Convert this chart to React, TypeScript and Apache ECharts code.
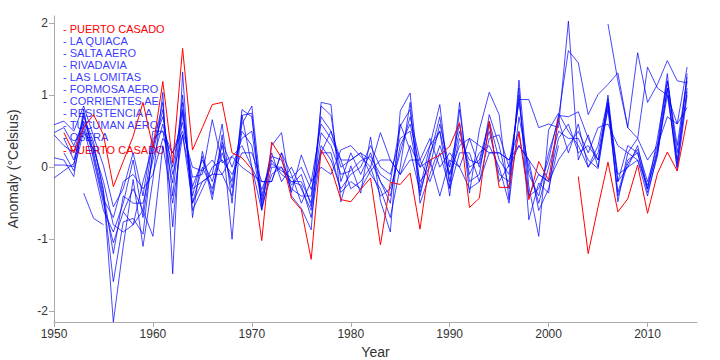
import React, { useEffect, useRef } from "react";
import * as echarts from "echarts";

const YEARS: number[] = Array.from({ length: 65 }, (_, i) => 1950 + i);
const X_TICKS = [1950, 1960, 1970, 1980, 1990, 2000, 2010];
const Y_TICKS = [-2, -1, 0, 1, 2];

const LEGEND_NAMES = [
  "PUERTO CASADO", "LA QUIACA", "SALTA AERO", "RIVADAVIA", "LAS LOMITAS",
  "FORMOSA AERO", "CORRIENTES AE", "RESISTENCIA A", "TUCUMAN AERO", "OBERA", "PUERTO CASADO",
];
const LEGEND_RED = [true, false, false, false, false, false, false, false, false, false, true];

const n = null;
// 1950 .. 2014
const puertoCasadoA = [
  n, 0.48, 0.2, 0.55, 0.73, 0.45, -0.27, 0.08, 0.43, 0.9,
  0.27, 1.19, 0.06, 1.65, 0.24, 0.55, 0.87, 0.9, 0.2, 0.13,
  -0.03, -1.02, 0.35, 0.13, -0.43, -0.59, -1.28, 0.24, -0.01, -0.45,
  -0.48, -0.31, -0.15, -1.08, -0.21, -0.24, -0.08, -0.86, 0.1, 0.17,
  0.29, 0.62, -0.56, -0.43, 0.64, -0.28, -0.28, 0.48, -0.45, 0.08,
  -0.18, 0.68, n, n, n, n, n, n, n, n,
  n, n, n, n, n,
];
const laQuiaca = [
  0.59, 0.64, 0.5, 0.85, 0.43, 0.02, -0.55, -0.3, 0.2, -0.4,
  0.5, 0.5, 0.2, 0.5, 0.0, -0.05, 0.1, -0.1, 0.15, 0.0,
  -0.1, -0.2, -0.2, 0.2, -0.35, 0.17, -0.2, 0.0, -0.1, 0.24,
  0.3, 0.15, 0.0, 0.48, 0.1, -0.1, 0.1, 0.1, 0.4, 0.0,
  0.2, 0.0, 0.4, 0.3, 0.2, 0.2, 0.1, 0.3, 0.1, -0.1,
  -0.2, 0.1, 0.3, 0.5, 0.2, 0.55, 0.6, 0.3, 0.2, 0.4,
  0.1, 0.3, 0.7, 0.6, 0.83,
];
const saltaAero = [
  0.48, 0.55, 0.3, 0.64, 0.3, -0.31, -2.15, -1.1, -0.17, -1.1,
  -0.17, 1.04, -1.48, 1.32, -0.7, 0.22, -0.38, 0.45, -1.0, 0.72,
  0.75, -0.59, 0.3, 0.48, -0.4, -0.57, -0.87, 0.9, 0.87, -0.48,
  0.02, -0.36, 0.42, -0.47, -0.9, 0.78, 1.03, -0.29, 0.3, 0.87,
  -0.29, 0.9, -0.36, 0.52, 1.04, 0.73, -0.45, 1.21, -0.27, -0.96,
  0.52, 0.75, 0.5, 0.3, 0.0, 0.3, 0.95, -0.48, 0.2, 0.1,
  -0.4, 0.2, 1.1, 0.0, 1.1,
];
const rivadavia = [
  0.13, 0.1, -0.13, 0.75, 0.2, -0.4, -1.59, -0.76, -0.71, -0.93,
  0.27, 0.9, -0.83, 0.76, -0.27, 0.1, -0.2, 0.3, -0.29, 0.5,
  0.3, -0.5, 0.1, -0.1, -0.2, -0.2, -0.5, 0.85, 0.72, -0.2,
  0.2, -0.1, 0.2, -0.2, -0.5, 0.57, 0.8, -0.4, 0.2, 0.5,
  -0.4, 0.8, -0.2, -0.1, 0.73, 0.3, -0.3, 1.1, -0.73, -0.22,
  -0.36, 0.7, 1.62, 1.45, 0.73, 1.01, 1.15, 1.31, 0.55, 0.4,
  1.39, 1.1, 1.0, 0.6, 1.39,
];
const lasLomitas = [
  n, n, n, -0.36, -0.71, -0.8, n, -0.62, -0.8, -0.6,
  -0.96, 0.3, -0.5, 0.45, -0.5, -0.2, -0.1, 0.6, -0.5, 0.8,
  0.7, -0.55, -0.1, 0.0, -0.3, -0.4, -0.4, 0.7, 0.5, 0.0,
  0.1, 0.2, -0.1, -0.3, -0.7, 0.0, 0.9, -0.5, -0.1, 0.3,
  -0.1, 0.3, 0.4, 0.0, 0.5, -0.1, -0.2, 1.0, -0.4, -0.3,
  0.1, 0.72, 0.7, 0.77, 0.4, 0.1, 0.9, -0.2, 0.0, 0.3,
  -0.3, 0.25, 1.2, 0.3, 1.25,
];
const formosaAero = [
  0.03, 0.03, 0.01, 0.8, 0.1, -0.5, -1.05, -0.62, -0.3, -0.6,
  0.4, 0.5, -0.22, 1.0, -0.5, 0.0, -0.3, 0.2, -0.2, 0.6,
  0.85, -0.4, 0.2, -0.2, 0.0, -0.3, -0.6, 0.3, 0.1, -0.3,
  -0.1, 0.0, 0.3, 0.0, -0.1, 0.4, 0.5, -0.2, 0.0, 0.6,
  0.0, 0.6, -0.1, 0.2, 0.3, 0.0, -0.5, 0.7, 0.0, -0.5,
  0.0, 0.5, 0.4, 0.4, 0.1, -0.02, 0.85, -0.35, 0.1, 0.2,
  -0.35, 0.15, 1.1, -0.05, 1.0,
];
const corrientesAe = [
  -0.15, -0.05, 0.05, 0.55, 0.0, -0.6, -0.9, -0.5, 0.1, -0.7,
  0.2, 0.8, -0.4, 0.9, -0.6, -0.3, 0.0, 0.1, -0.1, 0.2,
  0.2, -0.2, -0.2, 0.2, -0.1, -0.5, -0.2, 0.6, 0.4, 0.1,
  -0.3, -0.2, 0.0, -0.4, -0.3, 0.2, 0.7, 0.1, -0.2, 0.2,
  -0.3, 0.2, 0.2, -0.2, 0.2, 0.2, 0.1, 0.5, -0.4, -0.1,
  -0.2, 0.4, 0.6, 0.2, 0.3, 0.1, 0.8, -0.4, 0.05, 0.25,
  -0.2, 0.3, 1.3, 0.05, 1.3,
];
const resistencia = [
  0.45, 0.3, 0.2, 0.7, 0.35, -0.35, -1.2, -0.4, -0.5, -0.5,
  0.1, 0.6, 0.0, 0.8, -0.4, 0.15, -0.45, 0.35, 0.0, 0.4,
  0.5, -0.45, 0.15, 0.1, -0.25, -0.1, -0.55, 0.48, 0.3, -0.1,
  -0.05, 0.09, 0.15, -0.1, -0.2, 0.6, 0.24, -0.35, 0.15, 0.7,
  -0.2, 0.4, 0.1, 0.05, 0.6, -0.2, 0.03, 0.9, -0.1, -0.4,
  0.2, 0.65, 0.2, 0.6, 0.0, 0.2, 0.9, -0.1, 0.0, 0.1,
  -0.25, 0.2, 1.0, 0.1, 1.05,
];
const tucumanAero = [
  n, 0.4, 0.1, 0.6, 0.15, -0.45, -0.7, -0.2, -0.1, -0.3,
  -0.1, 0.4, 0.2, 0.62, -0.14, -0.1, 0.66, 0.06, 0.15, 0.3,
  0.0, -0.31, 0.05, -0.05, -0.15, 0.0, -0.31, 0.2, 0.2, -0.35,
  -0.2, -0.3, -0.05, 0.1, 0.1, -0.1, 0.3, 0.0, 0.1, -0.4,
  0.1, 0.0, -0.3, -0.2, 0.4, 0.45, 0.0, 0.3, 0.1, -0.6,
  -0.3, 0.3, n, n, n, n, 1.99, 1.2, 0.55, 1.59,
  0.9, 1.15, 1.48, 1.2, 1.17,
];
const obera = [
  n, 0.2, -0.05, 0.5, 0.25, -0.2, -0.8, -0.9, -0.8, -0.2,
  0.3, 0.7, -0.1, 0.45, -0.3, -0.2, -0.1, -0.1, -0.4, 0.72,
  0.0, -0.6, 0.0, 0.0, -0.2, -0.25, -0.7, 0.2, 0.5, 0.1,
  0.1, 0.2, 0.1, -0.2, -0.4, 0.3, 0.6, 0.0, 0.3, 0.5,
  -0.1, 0.5, 0.0, 0.1, 0.64, 0.1, -0.1, 0.94, 0.94, 0.55,
  0.6, 0.55, 2.03, 0.1, 0.45, 0.0, 1.0, -0.2, 0.3, 0.2,
  -0.3, 0.4, 1.2, 0.2, 1.2,
];
const puertoCasadoB = [
  n, n, n, n, n, n, n, n, n, n,
  n, n, n, n, n, n, n, n, n, n,
  n, n, n, n, n, n, n, n, n, n,
  n, n, n, n, n, n, n, n, n, n,
  n, n, n, n, n, n, n, n, n, n,
  n, n, n, -0.13, -1.2, -0.55, 0.07, -0.62, -0.44, 0.03,
  -0.64, -0.09, 0.21, -0.05, 0.66,
];

const SERIES_DATA = [
  puertoCasadoA, laQuiaca, saltaAero, rivadavia, lasLomitas, formosaAero,
  corrientesAe, resistencia, tucumanAero, obera, puertoCasadoB,
];

const RED = "#ff0000";
const BLUE = "#0000ff";
const FONT = '"Liberation Sans", Arial, sans-serif';

export default function App() {
  const ref = useRef<HTMLDivElement>(null);
  useEffect(() => {
    document.body.style.margin = "0";
    const chart = echarts.init(ref.current as HTMLDivElement, null, { renderer: "svg" });
    const series = SERIES_DATA.map((vals, si) => ({
      type: "line",
      name: LEGEND_NAMES[si],
      data: YEARS.map((y, i) => [y, vals[i] === null ? "-" : vals[i]]),
      showSymbol: false,
      symbol: "none",
      connectNulls: false,
      z: LEGEND_RED[si] ? 3 : 2,
      lineStyle: {
        width: 1,
        color: LEGEND_RED[si] ? RED : BLUE,
        opacity: LEGEND_RED[si] ? 1 : 0.72,
      },
      emphasis: { disabled: true },
    }));
    chart.setOption({
      animation: false,
      grid: { left: 54, right: 23, top: 16, bottom: 38, containLabel: false, outerBoundsMode: "none" },
      xAxis: {
        type: "value",
        min: 1950,
        max: 2015,
        name: "Year",
        nameLocation: "middle",
        nameGap: 21,
        nameTextStyle: { color: "#333", fontSize: 14, fontFamily: FONT },
        axisLine: { onZero: false, lineStyle: { color: "#aaa" } },
        axisTick: { show: true, length: 5, lineStyle: { color: "#aaa" }, customValues: X_TICKS },
        axisLabel: {
          color: "#333", fontSize: 12, fontFamily: FONT, margin: 6, customValues: X_TICKS,
          formatter: (v: number) => String(v),
        },
        splitLine: { show: false },
      },
      yAxis: {
        type: "value",
        min: -2.15,
        max: 2.1,
        name: "Anomaly (°Celsius)",
        nameLocation: "middle",
        nameGap: 34,
        nameTextStyle: { color: "#333", fontSize: 14, fontFamily: FONT },
        axisLine: { show: true, onZero: false, lineStyle: { color: "#aaa" } },
        axisTick: { show: true, length: 5, lineStyle: { color: "#aaa" }, customValues: Y_TICKS },
        axisLabel: {
          color: "#333", fontSize: 12, fontFamily: FONT, margin: 6, customValues: Y_TICKS,
          formatter: (v: number) => String(v),
        },
        splitLine: { show: false },
      },
      graphic: LEGEND_NAMES.map((name, i) => ({
        type: "text",
        left: 63,
        top: 23 + i * 12.1,
        z: 1,
        style: {
          text: "-\u00A0" + name,
          fill: LEGEND_RED[i] ? RED : "rgba(0,0,255,0.8)",
          font: "11px " + FONT,
        },
      })),
      series,
    });
    return () => chart.dispose();
  }, []);
  return <div ref={ref} style={{ width: 720, height: 360 }} />;
}
